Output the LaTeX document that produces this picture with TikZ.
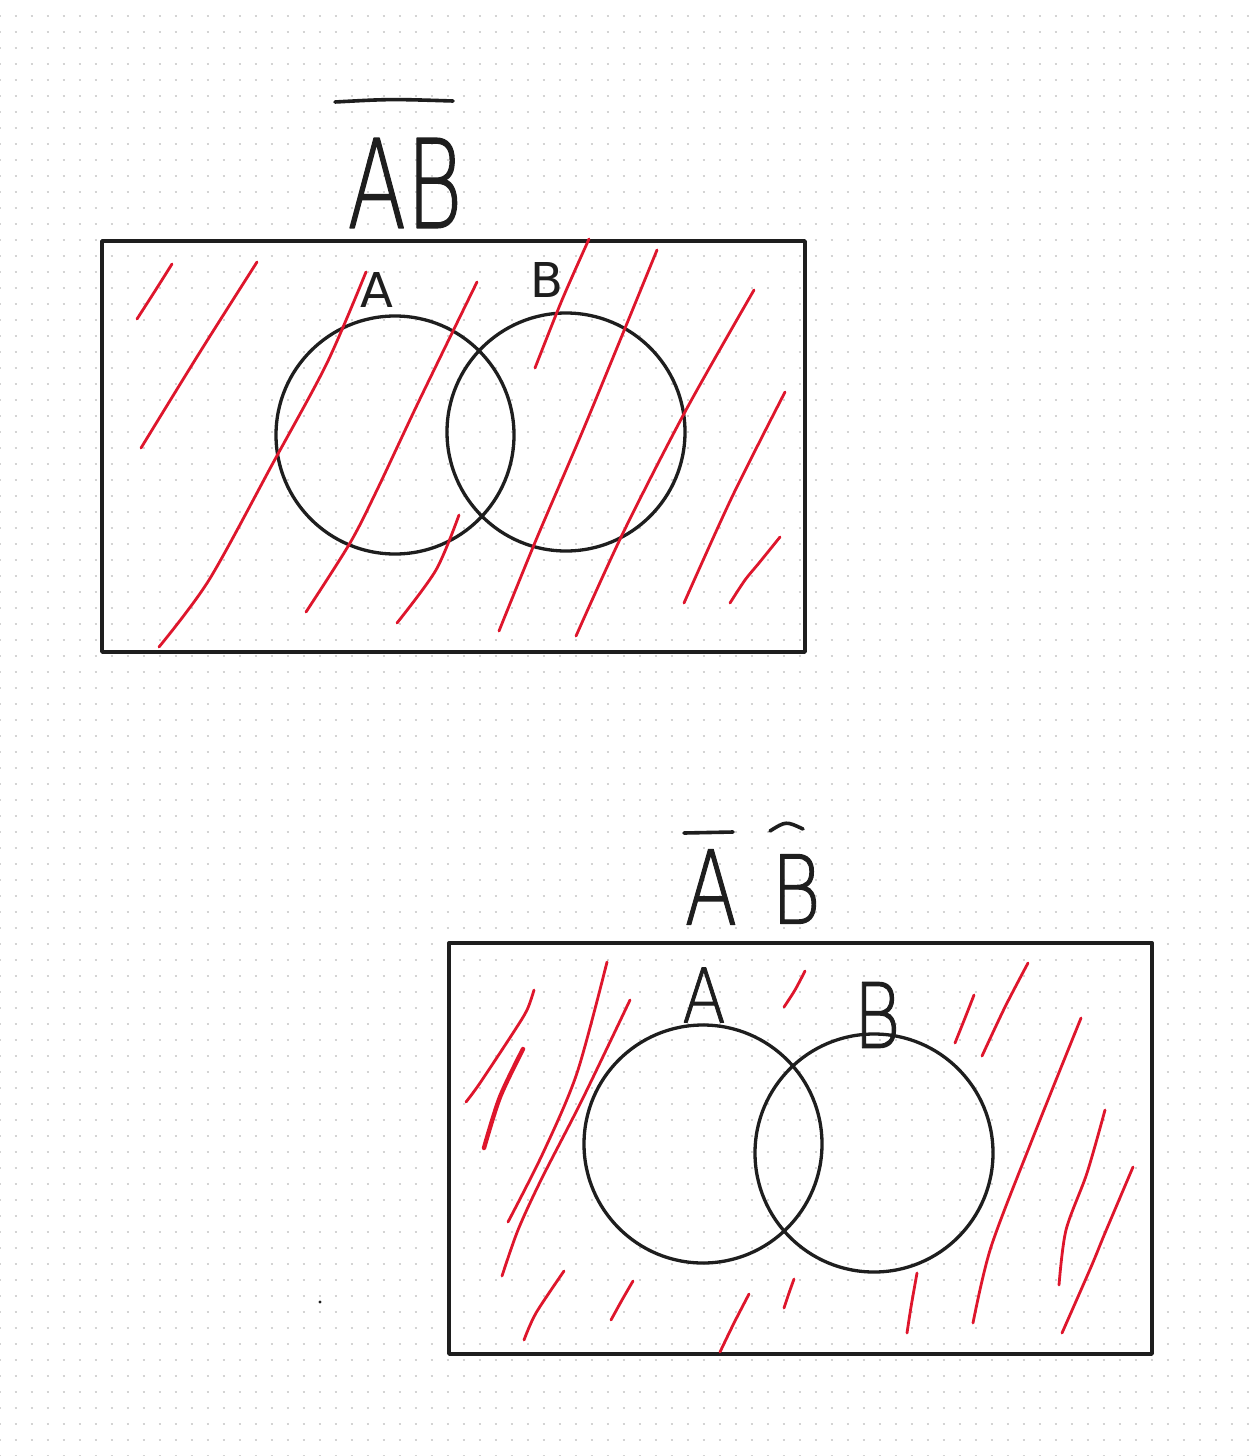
\documentclass[tikz,border=0pt]{standalone}
\usepackage{fontspec}
\newfontfamily\handfont{DejaVuSans-ExtraLight.ttf}[FakeBold=1.2]
\newfontfamily\labelfont{DejaVu Sans}
\definecolor{ink}{RGB}{30,30,30}
\definecolor{hatchred}{RGB}{222,22,44}
\definecolor{dotgray}{RGB}{212,212,212}

\begin{document}
\begin{tikzpicture}[x=1pt, y=-1pt, line cap=round, line join=round,
    frame/.style={draw=ink, line width=3.4pt},
    setcircle/.style={circle, draw=ink, line width=3.3pt, minimum size=238pt, inner sep=0pt},
    hatch/.style={draw=hatchred, line width=2.8pt},
    pen/.style={draw=ink, line width=3.6pt},
    letter/.style={inner sep=0pt, text=ink, font=\handfont\bfseries\fontsize{#1}{#1}\selectfont},
    smallletter/.style={inner sep=0pt, text=ink, font=\labelfont\fontsize{#1}{#1}\selectfont},
    dotrow/.style={draw=dotgray, line width=2pt, line cap=butt,
        dash pattern=on 2pt off 14pt, dash phase=1.3pt}]

    \useasboundingbox (0,0) rectangle (1253,1456);

    % ── Dotted paper ──────────────────────────────────────────────────────────
    \fill[white] (0,0) rectangle (1253,1456);
    \foreach \r in {1,...,91}
        \draw[dotrow] (0,16*\r-0.3) -- (1253,16*\r-0.3);

    % ── Upper diagram: complement of AB ───────────────────────────────────────
    \node[letter=123] (topTitle) at (405,183) {\scalebox{0.7}[1]{AB}};
    \draw[pen] (335,102) .. controls (390,99) .. (453,101);

    \draw[frame] (102,241) rectangle (805,652);
    \node[setcircle] (topA) at (395,435) {};
    \node[setcircle] (topB) at (566,432) {};
    \node[smallletter=48] (topLabA) at (377,290) {A};
    \node[smallletter=48] (topLabB) at (547,280) {B};

    % hatching, everything shaded
    \draw[hatch] plot[smooth] coordinates {(137,319) (155,291) (172,264)};
    \draw[hatch] plot[smooth] coordinates {(141,448) (200,352) (257,262)};
    \draw[hatch] plot[smooth] coordinates {(159,647) (209,580) (273,463) (327,363) (366,272)};
    \draw[hatch] plot[smooth] coordinates {(306,612) (350,543) (377,490) (418,403) (477,282)};
    \draw[hatch] plot[smooth] coordinates {(397,623) (436,570) (459,515)};
    \draw[hatch] plot[smooth] coordinates {(535,368) (562,300) (589,239)};
    \draw[hatch] plot[smooth] coordinates {(499,631) (536,540) (586,423) (657,250)};
    \draw[hatch] plot[smooth] coordinates {(576,636) (623,533) (686,410) (754,290)};
    \draw[hatch] plot[smooth] coordinates {(684,603) (732,497) (785,392)};
    \draw[hatch] plot[smooth] coordinates {(730,603) (745,580) (759,563) (780,537)};

    % ── Lower diagram: complement of A and complement of B ────────────────────
    \node[letter=103] (botTitleA) at (711,887) {\scalebox{0.75}[1]{A}};
    \node[letter=95] (botTitleB) at (796,889) {\scalebox{0.8}[1]{B}};
    \draw[pen] (684,833) -- (733,832);
    \draw[pen] (770,831) .. controls (786,821) .. (803,829);

    \draw[frame] (449,943) rectangle (1152,1354);
    \node[setcircle] (botA) at (703,1144) {};
    \node[setcircle] (botB) at (874,1153) {};
    \node[letter=75] (botLabA) at (704,995) {\scalebox{0.85}[1]{A}};
    \node[letter=90] (botLabB) at (877,1015) {\scalebox{0.8}[1]{B}};

    % hatching outside both sets
    \draw[hatch] plot[smooth] coordinates {(466,1102) (480,1083) (513,1033) (527,1010) (534,990)};
    \draw[hatch, line width=4.4pt] plot[smooth] coordinates {(484,1148) (500,1097) (523,1049)};
    \draw[hatch] plot[smooth] coordinates {(508,1222) (543,1153) (577,1073) (607,962)};
    \draw[hatch] plot[smooth] coordinates {(502,1276) (518,1230) (541,1180) (582,1100) (630,1000)};
    \draw[hatch] plot[smooth] coordinates {(784,1007) (795,990) (805,971)};
    \draw[hatch] plot[smooth] coordinates {(955,1043) (965,1018) (974,995)};
    \draw[hatch] plot[smooth] coordinates {(982,1056) (1005,1007) (1028,963)};
    \draw[hatch] plot[smooth] coordinates {(973,1323) (991,1247) (1032,1140) (1081,1018)};
    \draw[hatch] plot[smooth] coordinates {(1059,1285) (1066,1230) (1087,1173) (1105,1110)};
    \draw[hatch] plot[smooth] coordinates {(1062,1333) (1091,1267) (1105,1233) (1133,1167)};
    \draw[hatch] plot[smooth] coordinates {(907,1333) (911,1307) (917,1273)};
    \draw[hatch] plot[smooth] coordinates {(784,1308) (789,1293) (794,1279)};
    \draw[hatch] plot[smooth] coordinates {(720,1352) (734,1323) (749,1294)};
    \draw[hatch] plot[smooth] coordinates {(611,1320) (622,1300) (633,1281)};
    \draw[hatch] plot[smooth] coordinates {(524,1340) (536,1313) (564,1271)};

    % stray pen dot
    \fill[ink] (320,1302) circle (1.6);

\end{tikzpicture}
\end{document}
